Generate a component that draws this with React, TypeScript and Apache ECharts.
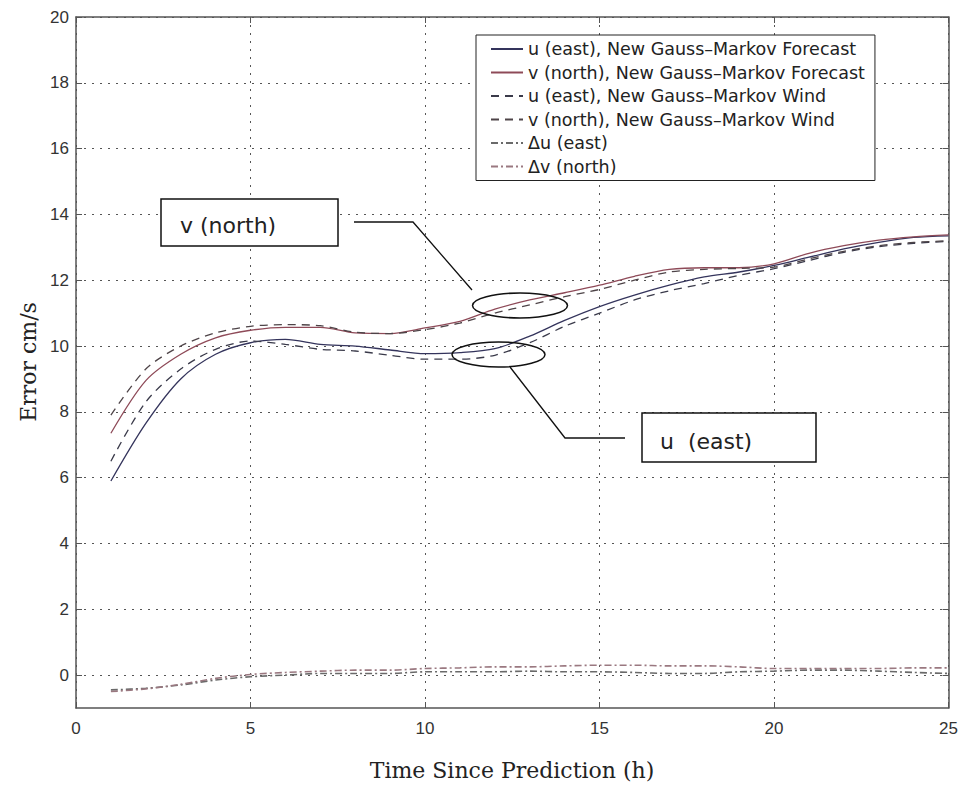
import React, { useEffect, useRef } from "react";
import * as echarts from "echarts";

// ---- data ----
const hours = [1, 2, 3, 4, 5, 6, 7, 8, 9, 10, 11, 12, 13, 14, 15, 16, 17, 18, 19, 20, 21, 22, 23, 24, 25];

const uForecast = [5.9, 7.65, 9.0, 9.75, 10.1, 10.2, 10.05, 10.0, 9.88, 9.77, 9.8, 9.92, 10.3, 10.78, 11.2, 11.55, 11.85, 12.1, 12.25, 12.45, 12.7, 12.95, 13.15, 13.3, 13.35];
const vForecast = [7.35, 8.95, 9.75, 10.25, 10.48, 10.57, 10.57, 10.4, 10.38, 10.55, 10.75, 11.12, 11.4, 11.62, 11.85, 12.12, 12.33, 12.38, 12.38, 12.5, 12.82, 13.05, 13.22, 13.32, 13.38];
const uWind = [6.5, 8.3, 9.3, 9.9, 10.15, 10.05, 9.9, 9.85, 9.72, 9.6, 9.6, 9.72, 10.1, 10.6, 11.0, 11.4, 11.68, 11.9, 12.15, 12.35, 12.6, 12.85, 13.02, 13.12, 13.18];
const vWind = [7.9, 9.3, 10.0, 10.4, 10.6, 10.65, 10.62, 10.42, 10.38, 10.5, 10.7, 11.0, 11.25, 11.5, 11.72, 12.0, 12.25, 12.33, 12.36, 12.4, 12.65, 12.88, 13.05, 13.15, 13.2];
const deltaU = [-0.45, -0.4, -0.3, -0.15, -0.05, 0.0, 0.05, 0.05, 0.05, 0.1, 0.1, 0.1, 0.12, 0.1, 0.1, 0.08, 0.05, 0.05, 0.1, 0.12, 0.15, 0.15, 0.12, 0.08, 0.05];
const deltaV = [-0.5, -0.42, -0.28, -0.1, 0.02, 0.08, 0.12, 0.15, 0.15, 0.2, 0.22, 0.25, 0.25, 0.28, 0.3, 0.3, 0.28, 0.28, 0.25, 0.2, 0.2, 0.2, 0.2, 0.22, 0.22];

const seriesNames = [
  "u (east), New Gauss\u2013Markov Forecast",
  "v (north), New Gauss\u2013Markov Forecast",
  "u (east), New Gauss\u2013Markov Wind",
  "v (north), New Gauss\u2013Markov Wind",
  "\u0394u (east)",
  "\u0394v (north)",
];

const yTicks = [0, 2, 4, 6, 8, 10, 12, 14, 16, 18, 20];
const xTitle = "Time Since Prediction (h)";
const yTitle = "Error cm/s";
const noteV = "v (north)";
const noteU = "u  (east)";

const pair = (arr: number[]) => hours.map((h, i) => [h, arr[i]]);

export default function App() {
  const ref = useRef<HTMLDivElement>(null);
  useEffect(() => {
    if (!ref.current) return;
    const chart = echarts.init(ref.current, null, { renderer: "svg" });
    const axisColor = "#555";
    const gridLine = { show: true, lineStyle: { color: "#555", width: 1, type: [2, 6] as any } };
    const sans = "Liberation Sans, Arial, sans-serif";
    const wideSans = "DejaVu Sans, Verdana, sans-serif";
    const serif = "DejaVu Serif, Liberation Serif, serif";
    const styles = [
      { color: "#34345c", type: "solid", width: 1.3 },
      { color: "#8e4a58", type: "solid", width: 1.3 },
      { color: "#3a3a4a", type: [8, 6], width: 1.3 },
      { color: "#4e4448", type: [8, 6], width: 1.3 },
      { color: "#6a6a6a", type: [7, 3, 2, 3], width: 1.6 },
      { color: "#9a7880", type: [7, 3, 2, 3], width: 1.6 },
    ];
    const dataSets = [uForecast, vForecast, uWind, vWind, deltaU, deltaV];
    const option: any = {
      animation: false,
      backgroundColor: "#fff",
      grid: { left: 76, right: 12, top: 17, bottom: 85 },
      xAxis: [
        {
          type: "value", min: 0, max: 25, interval: 5,
          axisLine: { show: true, onZero: false, lineStyle: { color: axisColor, width: 1.5 } },
          axisTick: { show: true, inside: true, length: 6, lineStyle: { color: axisColor } },
          axisLabel: { color: "#333", fontSize: 17, fontFamily: sans, margin: 12 },
          splitLine: gridLine,
        },
        {
          type: "value", min: 0, max: 25, interval: 5, position: "top",
          axisLine: { show: true, onZero: false, lineStyle: { color: axisColor, width: 1.5 } },
          axisTick: { show: true, inside: true, length: 6, lineStyle: { color: axisColor } },
          axisLabel: { show: false },
          splitLine: { show: false },
        },
      ],
      yAxis: [
        {
          type: "value", min: -1, max: 20,
          axisLine: { show: true, onZero: false, lineStyle: { color: axisColor, width: 1.5 } },
          axisTick: { show: true, inside: true, length: 6, customValues: yTicks, lineStyle: { color: axisColor } },
          axisLabel: { color: "#333", fontSize: 17, fontFamily: sans, margin: 7, customValues: yTicks },
          splitLine: gridLine,
        },
        {
          type: "value", min: -1, max: 20, position: "right",
          axisLine: { show: true, onZero: false, lineStyle: { color: axisColor, width: 1.5 } },
          axisTick: { show: true, inside: true, length: 6, customValues: yTicks, lineStyle: { color: axisColor } },
          axisLabel: { show: false, customValues: yTicks },
          splitLine: { show: false },
        },
      ],
      legend: {
        orient: "vertical", left: 476, top: 35,
        padding: [5, 10, 5, 14], itemWidth: 32, itemHeight: 12, itemGap: 5.5,
        backgroundColor: "#fff", borderColor: "#222", borderWidth: 1, borderRadius: 0,
        itemStyle: { opacity: 0 },
        textStyle: { fontSize: 17.5, fontFamily: wideSans, color: "#222" },
        data: seriesNames,
      },
      series: seriesNames.map((name, i) => ({
        name, type: "line", xAxisIndex: 0, yAxisIndex: 0,
        symbol: "none", symbolSize: 0, showSymbol: false, smooth: 0.3,
        data: pair(dataSets[i]),
        itemStyle: { color: styles[i].color },
        lineStyle: { color: styles[i].color, width: styles[i].width, type: styles[i].type },
        z: 3,
      })),
      graphic: [
        // axis titles
        { type: "text", x: 512, y: 770, style: { text: xTitle, font: `22px ${serif}`, fill: "#222", align: "center", verticalAlign: "middle" } },
        { type: "text", x: 28, y: 362, rotation: Math.PI / 2, style: { text: yTitle, font: `22px ${serif}`, fill: "#222", align: "center", verticalAlign: "middle" } },
        // v (north) callout
        { type: "rect", shape: { x: 161, y: 199, width: 177, height: 47 }, style: { fill: "#fff", stroke: "#111", lineWidth: 1.5 }, z: 10 },
        { type: "text", x: 180, y: 225, style: { text: noteV, font: `22px ${wideSans}`, fill: "#222", verticalAlign: "middle" }, z: 11 },
        { type: "polyline", shape: { points: [[354, 222], [413, 222], [472, 290]] }, style: { stroke: "#111", lineWidth: 1.3, fill: null }, z: 10 },
        { type: "ellipse", shape: { cx: 520, cy: 305.5, rx: 47.5, ry: 12.5 }, style: { stroke: "#111", lineWidth: 1.5, fill: null }, z: 10 },
        // u (east) callout
        { type: "ellipse", shape: { cx: 498.5, cy: 354.5, rx: 46.5, ry: 12.5 }, style: { stroke: "#111", lineWidth: 1.5, fill: null }, z: 10 },
        { type: "polyline", shape: { points: [[510, 367], [565, 438], [625, 438]] }, style: { stroke: "#111", lineWidth: 1.3, fill: null }, z: 10 },
        { type: "rect", shape: { x: 642, y: 413, width: 174, height: 49 }, style: { fill: "#fff", stroke: "#111", lineWidth: 1.5 }, z: 10 },
        { type: "text", x: 660, y: 441, style: { text: noteU, font: `22px ${wideSans}`, fill: "#222", verticalAlign: "middle" }, z: 11 },
      ],
    };
    chart.setOption(option);
    return () => chart.dispose();
  }, []);
  return (
    <div
      ref={ref}
      style={{ position: "absolute", left: 0, top: 0, width: 961, height: 793, background: "#fff" }}
    />
  );
}
